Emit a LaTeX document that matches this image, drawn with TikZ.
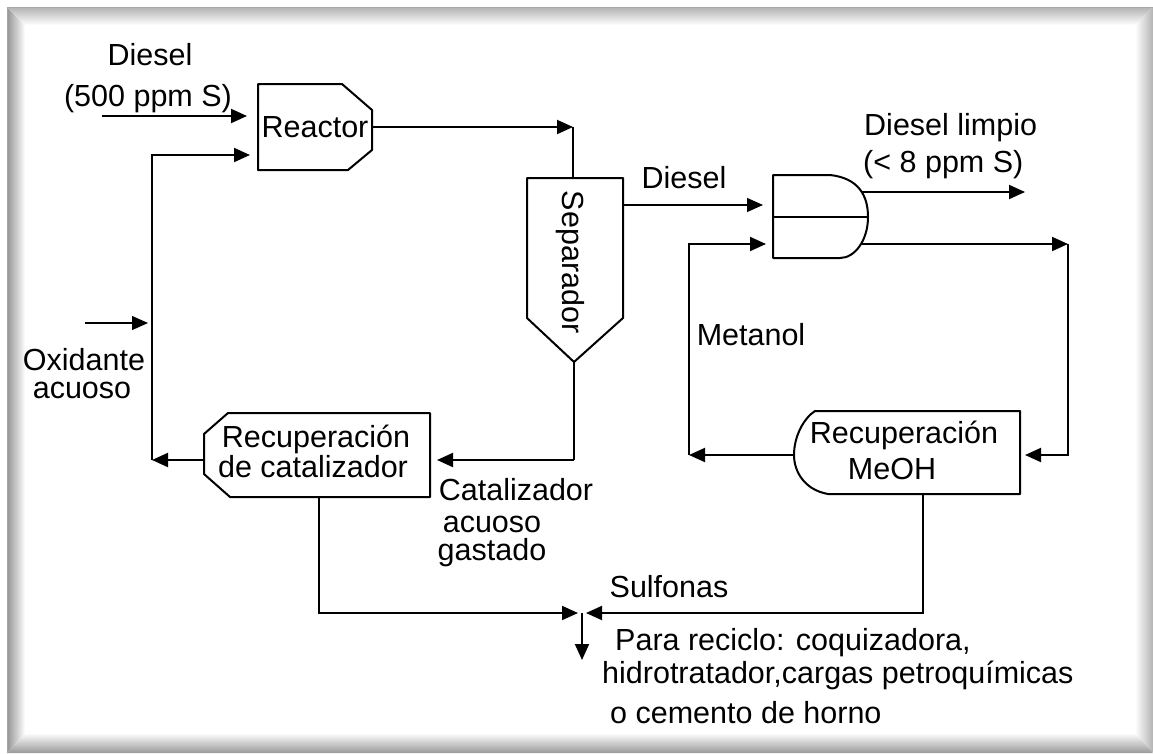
\documentclass[tikz,border=0pt]{standalone}
\usepackage{fontspec}
\setmainfont{Liberation Sans}
\usetikzlibrary{arrows.meta}
\begin{document}
\begin{tikzpicture}[x=1pt,y=-1pt,
  box/.style={draw=black, line width=2pt, fill=white, line join=round},
  flow/.style={line width=2pt, -{Triangle[length=16pt,width=14pt]}},
  thinflow/.style={line width=1.2pt, -{Triangle[length=16pt,width=14pt]}},
  pipe/.style={line width=2pt},
  thinpipe/.style={line width=1.2pt},
  lbl/.style={inner sep=0pt, anchor=base, font=\fontsize{30.5}{34}\selectfont},
  lblw/.style={lbl, anchor=base west}]
\useasboundingbox (0,0) rectangle (1153,753);
\fill[white] (0,0) rectangle (1153,753);
% frame shadow
\shade[left color=black!42, right color=white] (7,7) -- (25,25) -- (25,733) -- (7,753) -- cycle;
\shade[top color=black!30, bottom color=white] (7,7) -- (1153,7) -- (1135,25) -- (25,25) -- cycle;
\shade[left color=white, right color=black!30] (1153,7) -- (1153,753) -- (1135,733) -- (1135,25) -- cycle;
\shade[top color=white, bottom color=black!40] (7,753) -- (1153,753) -- (1135,733) -- (25,733) -- cycle;
\draw[black!35, line width=1pt] (7,753) -- (7,7) -- (1153,7);

% ---- shapes ----
\draw[box] (258,84) -- (342,84) -- (372,110) -- (372,150) -- (348,170) -- (258,170) -- cycle;
\draw[box] (527,178) -- (623,178) -- (623,318) -- (574,362) -- (527,318) -- cycle;
\draw[box] (773,175) -- (830,175) .. controls (858,178) and (868,195) .. (868,217)
           .. controls (868,240) and (855,258) .. (840,258) -- (773,258) -- cycle;
\draw[pipe] (773,217) -- (868,217);
\draw[box] (430,413) -- (430,497) -- (230,497) -- (204,474) -- (204,434) -- (228,413) -- cycle;
\draw[box] (1020,411) -- (1020,494) -- (828,494) .. controls (805,490) and (794,472) .. (794,455)
           .. controls (794,436) and (804,418) .. (815,411) -- cycle;

% ---- coordinates ----
\coordinate (din) at (102,116);
\coordinate (rin1) at (247,116);
\coordinate (rin2) at (250,155);
\coordinate (j2) at (152,155);
\coordinate (j1) at (152,460);
\coordinate (catw) at (204,460);
\coordinate (ox1) at (85,323);
\coordinate (ox2) at (148,323);
\coordinate (rout) at (372,127);
\coordinate (c1) at (573,127);
\coordinate (stop) at (573,178);
\coordinate (sout) at (623,205);
\coordinate (ein1) at (763,205);
\coordinate (sbot) at (574,362);
\coordinate (c2) at (574,460);
\coordinate (catin) at (437,460);
\coordinate (et) at (862,192);
\coordinate (clean) at (1025,192);
\coordinate (eb) at (862,244);
\coordinate (c6) at (1068,244);
\coordinate (c5) at (1068,455);
\coordinate (meoin) at (1025,455);
\coordinate (mw) at (794,455);
\coordinate (c7) at (689,455);
\coordinate (c8) at (689,244);
\coordinate (ein2) at (766,244);
\coordinate (mb) at (923,494);
\coordinate (c4) at (923,613);
\coordinate (jr) at (586,613);
\coordinate (catb) at (319,497);
\coordinate (c3) at (319,613);
\coordinate (jl) at (578,613);
\coordinate (jn) at (582,613);
\coordinate (down) at (582,660);

% ---- connectors ----
\draw[flow] (din) -- (rin1);
\draw[flow] (j1) -- (j2) -- (rin2);
\draw[flow] (catw) -- (j1);
\draw[thinflow] (ox1) -- (ox2);
\draw[flow] (rout) -- (c1);
\draw[pipe] (c1) -- (stop);
\draw[thinflow] (sout) -- (ein1);
\draw[thinpipe] (sbot) -- (c2);
\draw[flow] (c2) -- (catin);
\draw[flow] (et) -- (clean);
\draw[flow] (eb) -- (c6);
\draw[flow] (c6) -- (c5) -- (meoin);
\draw[flow] (mw) -- (c7);
\draw[flow] (c7) -- (c8) -- (ein2);
\draw[flow] (mb) -- (c4) -- (jr);
\draw[flow] (catb) -- (c3) -- (jl);
\draw[flow] (jn) -- (down);

% ---- labels ----
\node[lbl] (t1) at (150,65) {Diesel};
\node[lbl] (t2) at (148,106) {(500 ppm S)};
\node[lbl] (t3) at (315,137) {Reactor};
\node[lbl] (t4) at (684,188) {Diesel};
\node[lblw] (t5) at (864,135) {Diesel limpio};
\node[lblw] (t6) at (863,172) {(< 8 ppm S)};
\node[lbl] (t7) at (751,345) {Metanol};
\node[lbl] (t8) at (84,370) {Oxidante};
\node[lbl] (t9) at (82,398) {acuoso};
\node[lbl] (t10) at (316,447) {Recuperación};
\node[lbl] (t11) at (313,477) {de catalizador};
\node[lbl] (t12) at (904,443) {Recuperación};
\node[lbl] (t13) at (892,479) {MeOH};
\node[lbl, anchor=center, rotate=-90] (t14) at (570,262) {Separador};
\node[lbl] (t15) at (516,500) {Catalizador};
\node[lbl] (t16) at (492,532) {acuoso};
\node[lbl] (t17) at (492,560) {gastado};
\node[lbl] (t18) at (669,597) {Sulfonas};
\node[lblw] (t19) at (615,650) {Para reciclo: coquizadora,};
\node[lblw] (t20) at (602,683) {hidrotratador,cargas petroquímicas};
\node[lblw] (t21) at (610,723) {o cemento de horno};
\end{tikzpicture}
\end{document}
